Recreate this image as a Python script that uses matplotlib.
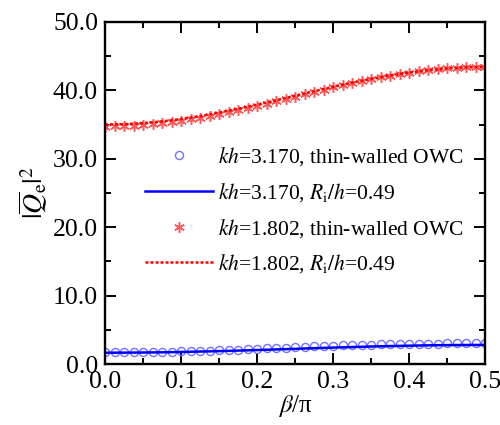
import numpy as np
import matplotlib
matplotlib.use("Agg")
import matplotlib.pyplot as plt
from matplotlib.ticker import MultipleLocator, FormatStrFormatter

plt.rcParams['font.family'] = ['Liberation Serif', 'DejaVu Serif']
plt.rcParams['mathtext.fontset'] = 'stix'

# beta/pi sample points
x_pts = np.linspace(0.0, 0.5, 41)
x_line = np.linspace(0.0, 0.5, 21)

# kh = 3.170
blue_circles = [1.70, 1.70, 1.71, 1.72, 1.74, 1.76, 1.78, 1.81, 1.84, 1.88, 1.92,
                1.96, 2.01, 2.06, 2.11, 2.17, 2.22, 2.28, 2.34, 2.40, 2.46, 2.52,
                2.57, 2.63, 2.68, 2.73, 2.77, 2.81, 2.85, 2.88, 2.91, 2.93, 2.95,
                2.97, 2.98, 2.99, 3.00, 3.00, 3.01, 3.01, 3.02]
blue_line = [1.65, 1.66, 1.68, 1.71, 1.76, 1.82, 1.88, 1.96, 2.04, 2.13, 2.22,
             2.31, 2.40, 2.48, 2.56, 2.62, 2.68, 2.73, 2.76, 2.78, 2.79]

# kh = 1.802
red_stars = [34.70, 34.72, 34.76, 34.84, 34.94, 35.06, 35.21, 35.38, 35.58, 35.79,
             36.02, 36.27, 36.54, 36.82, 37.11, 37.42, 37.74, 38.07, 38.40, 38.74,
             39.08, 39.42, 39.76, 40.09, 40.42, 40.74, 41.05, 41.34, 41.62, 41.89,
             42.14, 42.37, 42.58, 42.77, 42.94, 43.08, 43.20, 43.30, 43.37, 43.42, 43.45]
red_line = [35.00, 35.05, 35.21, 35.46, 35.80, 36.23, 36.73, 37.29, 37.90, 38.54,
            39.20, 39.86, 40.50, 41.11, 41.67, 42.17, 42.60, 42.94, 43.19, 43.35, 43.40]

labels = [r'$kh$=3.170, thin-walled OWC',
          r'$kh$=3.170, $R_{\rm i}/h$=0.49',
          r'$kh$=1.802, thin-walled OWC',
          r'$kh$=1.802, $R_{\rm i}/h$=0.49']

fig = plt.figure(figsize=(5, 4.25), dpi=100)
ax = fig.add_axes([0.21, 0.1435, 0.76, 0.805])

ax.plot(x_pts, blue_circles, 'o', ms=5.8, mfc='none', mec='#7373ff', mew=1.0, label=labels[0])
ax.plot(x_line, blue_line, '-', color='#0000ff', lw=1.8, label=labels[1])
ax.plot(x_pts, red_stars, ls='none', marker=(6, 2, 0), ms=7.5, mec='#ff5a5a', mew=1.1, label=labels[2])
ax.plot(x_line, red_line, ls=(0, (1.2, 0.8)), color='#ff0000', lw=1.8, label=labels[3])

ax.set_xlim(0, 0.5)
ax.set_ylim(0, 50)
ax.xaxis.set_major_locator(MultipleLocator(0.1))
ax.xaxis.set_minor_locator(MultipleLocator(0.05))
ax.yaxis.set_major_locator(MultipleLocator(10))
ax.yaxis.set_minor_locator(MultipleLocator(5))
ax.yaxis.set_major_formatter(FormatStrFormatter('%.1f'))
ax.tick_params(which='both', direction='in', top=True, right=True, width=1.4)
ax.tick_params(which='major', length=8, labelsize=18.5, pad=5)
ax.tick_params(which='minor', length=4.5)
for s in ax.spines.values():
    s.set_linewidth(1.7)

ax.set_xlabel(r'$\beta$/π', fontsize=18, labelpad=0)
ax.set_ylabel(r'$|\overline{Q}_{\rm e}|^2$', fontsize=20, labelpad=2)

ax.legend(loc='upper left', bbox_to_anchor=(0.105, 0.64), frameon=False,
          fontsize=15.5, handlelength=3.15, handletextpad=0.25, labelspacing=0.6,
          borderpad=0, borderaxespad=0, numpoints=1)

fig.savefig('out.png', dpi=100)
